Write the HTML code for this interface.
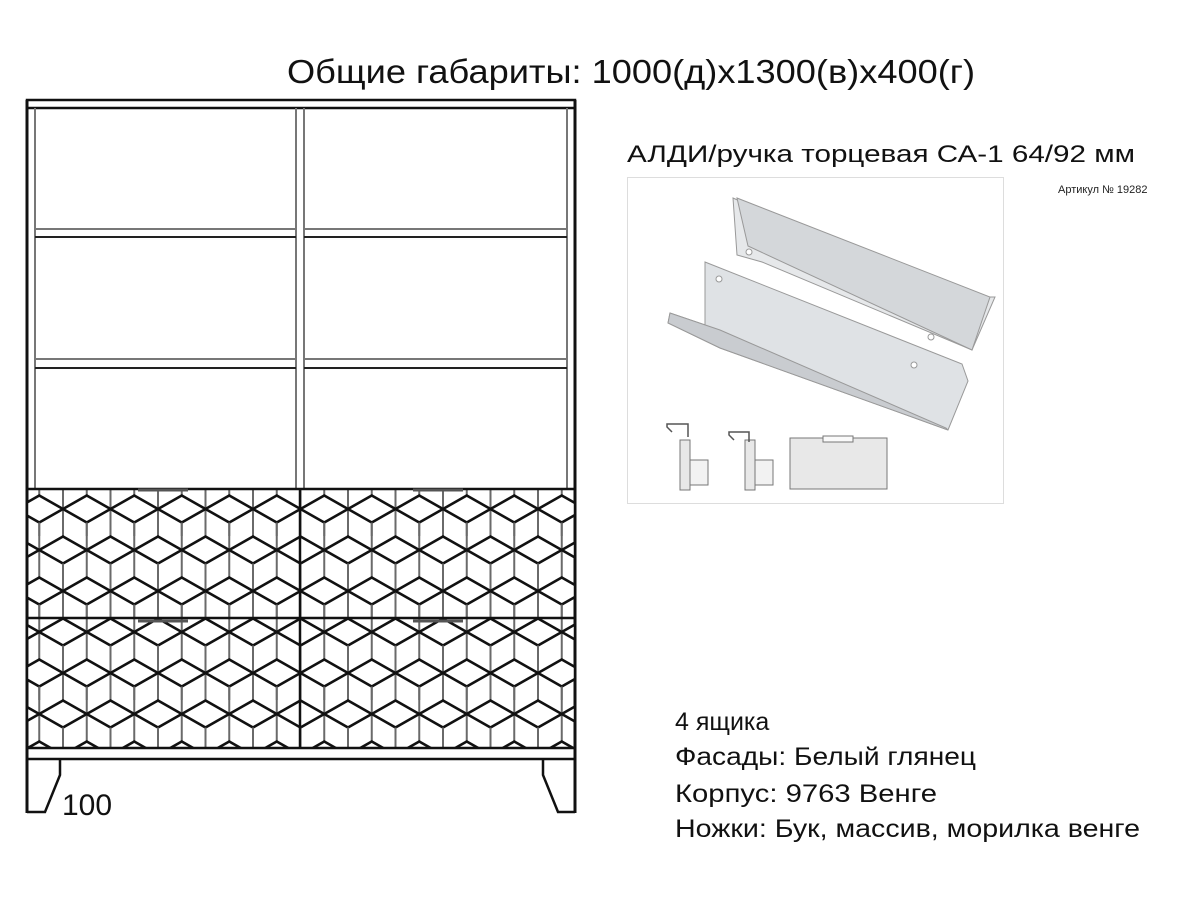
<!DOCTYPE html>
<html><head><meta charset="utf-8"><style>
html,body{margin:0;padding:0;background:#fff;width:1200px;height:900px;overflow:hidden}
svg{display:block}
</style></head><body>
<svg width="1200" height="900" viewBox="0 0 1200 900" xmlns="http://www.w3.org/2000/svg" font-family="'Liberation Sans', 'Noto Sans CJK SC', sans-serif">
<defs>
<pattern id="cube" patternUnits="userSpaceOnUse" x="63" y="468" width="47.5" height="82">
  <g stroke="#6a6a6a" stroke-width="2">
    <line x1="0" y1="0" x2="0" y2="82"/><line x1="23.75" y1="0" x2="23.75" y2="82"/><line x1="47.5" y1="0" x2="47.5" y2="82"/>
  </g>
  <g stroke="#111" stroke-width="2.6" fill="#fff" stroke-linejoin="miter">
    <polygon points="0,41 23.75,27.5 47.5,41 23.75,54.5"/>
    <polygon points="-23.75,0 0,-13.5 23.75,0 0,13.5"/>
    <polygon points="23.75,0 47.5,-13.5 71.25,0 47.5,13.5"/>
    <polygon points="-23.75,82 0,68.5 23.75,82 0,95.5"/>
    <polygon points="23.75,82 47.5,68.5 71.25,82 47.5,95.5"/>
  </g>
  <g stroke="#6a6a6a" stroke-width="2">
    <line x1="23.75" y1="54.5" x2="23.75" y2="68"/><line x1="0" y1="13.5" x2="0" y2="27"/><line x1="47.5" y1="13.5" x2="47.5" y2="27"/>
  </g>
</pattern>
</defs>

<text x="287" y="83" font-size="33" textLength="688" lengthAdjust="spacingAndGlyphs" fill="#111">Общие габариты: 1000(д)x1300(в)x400(г)</text>

<!-- cabinet carcass -->
<g fill="none">
  <rect x="27" y="100" width="548" height="8" stroke="#111" stroke-width="2.5"/>
  <line x1="27" y1="100" x2="27" y2="813" stroke="#111" stroke-width="3"/>
  <line x1="575" y1="100" x2="575" y2="813" stroke="#111" stroke-width="3"/>
  <g stroke="#777" stroke-width="2">
    <line x1="35" y1="108" x2="35" y2="489"/>
    <line x1="567" y1="108" x2="567" y2="489"/>
    <line x1="296" y1="108" x2="296" y2="489"/>
    <line x1="304" y1="108" x2="304" y2="489"/>
    <line x1="35" y1="229" x2="296" y2="229"/><line x1="304" y1="229" x2="567" y2="229"/>
    <line x1="35" y1="359" x2="296" y2="359"/><line x1="304" y1="359" x2="567" y2="359"/>
  </g>
  <g stroke="#222" stroke-width="2">
    <line x1="35" y1="237" x2="296" y2="237"/><line x1="304" y1="237" x2="567" y2="237"/>
    <line x1="35" y1="368" x2="296" y2="368"/><line x1="304" y1="368" x2="567" y2="368"/>
  </g>
</g>
<!-- drawers -->
<rect x="27" y="489" width="548" height="259" fill="url(#cube)"/>
<g stroke="#111" stroke-width="2.5" fill="none">
  <rect x="27" y="489" width="548" height="259"/>
  <line x1="27" y1="618" x2="575" y2="618"/>
  <line x1="300" y1="489" x2="300" y2="748"/>
  <line x1="27" y1="759" x2="575" y2="759"/>
</g>
<g stroke="#555" stroke-width="3">
  <line x1="138" y1="490" x2="188" y2="490"/><line x1="413" y1="490" x2="463" y2="490"/>
  <line x1="138" y1="621" x2="188" y2="621"/><line x1="413" y1="621" x2="463" y2="621"/>
</g>
<!-- legs -->
<g stroke="#111" stroke-width="2.5" fill="none">
  <polyline points="60,759 60,775 45,812 27,812"/>
  <polyline points="543,759 543,775 558,812 575,812"/>
</g>
<text x="62" y="815" font-size="30" fill="#111">100</text>

<!-- product -->
<text x="627" y="162" font-size="24" textLength="508" lengthAdjust="spacingAndGlyphs" fill="#111">АЛДИ/ручка торцевая СА-1 64/92 мм</text>
<text x="1058" y="193" font-size="11" fill="#222">Артикул № 19282</text>
<rect x="627.5" y="177.5" width="376" height="326" fill="#fff" stroke="#ddd"/>
<g stroke="#999" stroke-width="1">
  <polygon points="733,198 953,297 995,297 972,350 762,262 737,255" fill="#e6e8ea"/>
  <polygon points="737,198 990,297 972,350 748,246" fill="#d4d7da"/>
  <polygon points="705,262 962,364 968,381 948,430 720,348 668,323 670,313 705,325" fill="#dfe2e5"/>
  <polygon points="670,313 720,330 946,428 948,430 720,348 668,323" fill="#c9ccd0"/>
</g>
<circle cx="749" cy="252" r="3" fill="#fff" stroke="#999"/>
<circle cx="931" cy="337" r="3" fill="#fff" stroke="#999"/>
<circle cx="719" cy="279" r="3" fill="#fff" stroke="#999"/>
<circle cx="914" cy="365" r="3" fill="#fff" stroke="#999"/>
<g stroke="#777" stroke-width="1" fill="#e8e8e8">
  <rect x="680" y="440" width="10" height="50"/>
  <rect x="690" y="460" width="18" height="25" fill="#f2f2f2"/>
  <rect x="745" y="440" width="10" height="50"/>
  <rect x="755" y="460" width="18" height="25" fill="#f2f2f2"/>
  <rect x="790" y="438" width="97" height="51"/>
  <rect x="823" y="436" width="30" height="6" fill="#fafafa"/>
</g>
<g stroke="#555" fill="none" stroke-width="1.5">
  <polyline points="672,432 667,427 667,424 688,424 688,437"/>
  <polyline points="734,440 729,435 729,432 749,432 749,442"/>
</g>

<g font-size="25" fill="#111">
  <text x="675" y="730">4 ящика</text>
  <text x="675" y="765" textLength="301" lengthAdjust="spacingAndGlyphs">Фасады: Белый глянец</text>
  <text x="675" y="802" textLength="262" lengthAdjust="spacingAndGlyphs">Корпус: 9763 Венге</text>
  <text x="675" y="837" textLength="465" lengthAdjust="spacingAndGlyphs">Ножки: Бук, массив, морилка венге</text>
</g>
</svg>
</body></html>
